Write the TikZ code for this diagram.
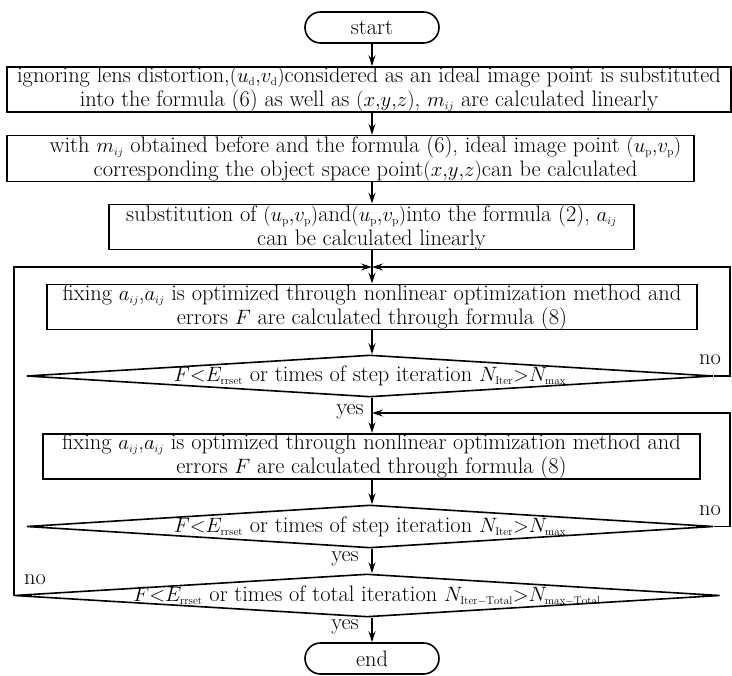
\documentclass[tikz,border=0pt]{standalone}
\usepackage{fontspec}
\usetikzlibrary{arrows.meta,shapes.geometric,shapes.misc}
\newcommand{\lowsub}[1]{_{\scriptscriptstyle #1}}

\begin{document}
\begin{tikzpicture}[x=1pt,y=-1pt,
  font=\fontsize{22.4}{24}\selectfont,
  box/.style={draw,line width=1.6pt,align=center,inner sep=0pt},
  term/.style={draw,line width=1.6pt,rounded rectangle,minimum width=134pt,minimum height=31pt,inner sep=0pt},
  test/.style={draw,line width=1.6pt,diamond,inner sep=0pt},
  arr/.style={line width=1.6pt,-{Stealth[length=11pt,width=7pt,inset=4pt]}},
  lbl/.style={inner sep=0pt}]
  \useasboundingbox (0,0) rectangle (732,676);
  % start and end
  \node[term] (start) at (372,27.5) {start};
  \node[term] (end) at (372,658.5) {end};
  % steps
  \node[box,minimum width=724pt,minimum height=45pt] (box1) at (369,89.5)
    {ignoring lens distortion,$(u\lowsub{\mathrm{d}}{,}v\lowsub{\mathrm{d}})$considered as an ideal image point is substituted\\
     into the formula (6) as well as $(x{,}y{,}z)$, $m\lowsub{ij}$ are calculated linearly};
  \node[box,minimum width=687pt,minimum height=43pt] (box2) at (350.5,158.5)
    {\hspace*{30pt}with $m\lowsub{ij}$ obtained before and the formula (6), ideal image point $(u\lowsub{\mathrm{p}}{,}v\lowsub{\mathrm{p}})$\\
     \hspace*{30pt}corresponding the object space point$(x{,}y{,}z)$can be calculated};
  \node[box,minimum width=525pt,minimum height=44pt] (box3) at (371.5,227)
    {substitution of $(u\lowsub{\mathrm{p}}{,}v\lowsub{\mathrm{p}})$and$(u\lowsub{\mathrm{p}}{,}v\lowsub{\mathrm{p}})$into the formula (2), $a\lowsub{ij}$\\
     can be calculated linearly};
  \node[box,minimum width=650pt,minimum height=44pt] (box4) at (372,307)
    {fixing $a\lowsub{ij}$,$a\lowsub{ij}$ is optimized through nonlinear optimization method and\\
     errors $F$ are calculated through formula (8)};
  \node[box,minimum width=657pt,minimum height=45pt] (box5) at (371.5,456.5)
    {fixing $a\lowsub{ij}$,$a\lowsub{ij}$ is optimized through nonlinear optimization method and\\
     errors $F$ are calculated through formula (8)};
  % tests
  \node[test,minimum width=687pt,minimum height=42pt] (test1) at (370,376) {};
  \node (cond1) at (test1) {$F{<}E\lowsub{\mathrm{rrset}}$ or times of step iteration $N\lowsub{\mathrm{Iter}}{>}N\lowsub{\mathrm{max}}$};
  \node[test,minimum width=687pt,minimum height=43pt] (test2) at (370,526.5) {};
  \node (cond2) at (test2) {$F{<}E\lowsub{\mathrm{rrset}}$ or times of step iteration $N\lowsub{\mathrm{Iter}}{>}N\lowsub{\mathrm{max}}$};
  \node[test,minimum width=706pt,minimum height=43pt] (test3) at (367,595.5) {};
  \node (cond3) at (test3) {$F{<}E\lowsub{\mathrm{rrset}}$ or times of total iteration $N\lowsub{\mathrm{Iter-Total}}{>}N\lowsub{\mathrm{max-Total}}$};
  % loop points
  \coordinate (join1) at (372,267);
  \coordinate (join2) at (372,413);
  \coordinate (right) at (730,0);
  \coordinate (left) at (14,0);
  % labels
  \node[lbl] (no1) at (710,360) {no};
  \node[lbl] (no2) at (710,511) {no};
  \node[lbl] (no3) at (35,580) {no};
  \node[lbl] (yes1) at (350,412) {yes};
  \node[lbl] (yes2) at (345,559) {yes};
  \node[lbl] (yes3) at (345,627) {yes};
  % arrows
  \draw[arr] (start) -- (box1.north -| start);
  \draw[arr] (box1.south -| start) -- (box2.north -| start);
  \draw[arr] (box2.south -| start) -- (box3.north -| start);
  \draw[arr] (box3.south -| start) -- (box4.north -| start);
  \draw[arr] (box4.south -| start) -- (test1.north -| start);
  \draw[arr] (test1.south -| start) -- (box5.north -| start);
  \draw[arr] (box5.south -| start) -- (test2.north -| start);
  \draw[arr] (test2.south -| start) -- (test3.north -| start);
  \draw[arr] (test3.south -| start) -- (end);
  % loops
  \draw[arr] (test1.east) -| (right |- join1) -- (join1);
  \draw[arr] (test2.east) -| (right |- join2) -- (join2);
  \draw[arr] (test3.west) -| (left |- join1) -- (join1);
\end{tikzpicture}
\end{document}
